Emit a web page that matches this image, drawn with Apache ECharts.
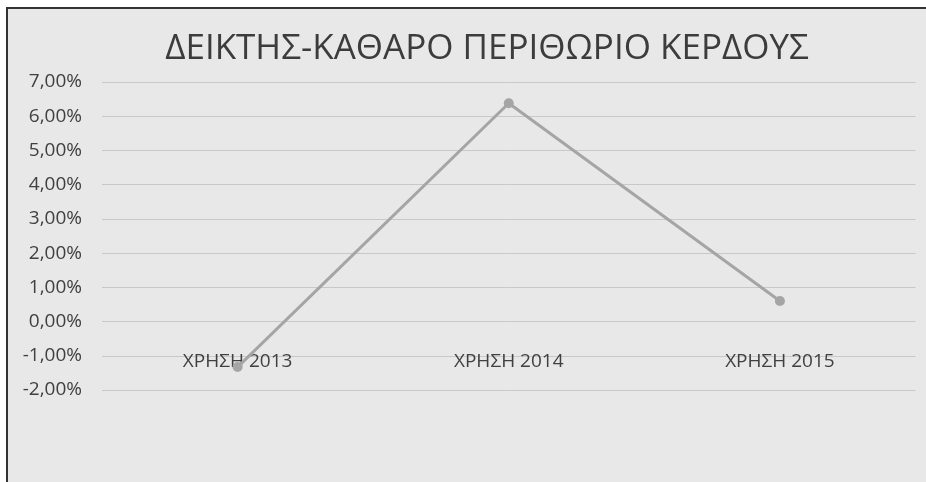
<!DOCTYPE html>
<html>
<head>
<meta charset="utf-8">
<script src="https://cdn.jsdelivr.net/npm/echarts@6/dist/echarts.min.js"></script>
<style>
html,body{margin:0;padding:0;background:#fff;}
#chart{width:926px;height:482px;}
</style>
</head>
<body>
<div id="chart"></div>
<script>
const titleText = 'ΔΕΙΚΤΗΣ-ΚΑΘΑΡΟ ΠΕΡΙΘΩΡΙΟ ΚΕΡΔΟΥΣ';
const categories = ['ΧΡΗΣΗ 2013', 'ΧΡΗΣΗ 2014', 'ΧΡΗΣΗ 2015'];
const values = [-1.33, 6.38, 0.6];
const yMin = -2, yMax = 7, yStep = 1;

const gridTop = 82, gridBottomY = 390;
const unitPx = (gridBottomY - gridTop) / (yMax - yMin);
const zeroOffset = -(0 - yMin) * unitPx; // move category axis up to the zero line

const chart = echarts.init(document.getElementById('chart'), null, {renderer: 'canvas'});
chart.setOption({
  backgroundColor: '#ffffff',
  animation: false,
  graphic: [
    {type: 'rect', shape: {x: 7, y: 8, width: 919, height: 474}, style: {fill: '#e8e8e8'}, z: -10},
    {type: 'line', shape: {x1: 6, y1: 8, x2: 926, y2: 8}, style: {stroke: '#333333', lineWidth: 2}, z: -5},
    {type: 'line', shape: {x1: 7, y1: 7, x2: 7, y2: 482}, style: {stroke: '#333333', lineWidth: 2}, z: -5}
  ],
  title: {
    text: titleText,
    left: 482, top: 27, textAlign: 'center',
    textStyle: {fontFamily: 'Open Sans', fontSize: 35, fontWeight: 'normal', color: '#3c3c3c'}
  },
  grid: {left: 102, right: 10.5, top: gridTop, bottom: 482 - gridBottomY, containLabel: false},
  xAxis: {
    type: 'category',
    data: categories,
    boundaryGap: true,
    offset: zeroOffset,
    axisLine: {show: false, onZero: false},
    axisTick: {show: false},
    axisLabel: {margin: 31, fontFamily: 'Open Sans', fontSize: 19, color: '#404040'},
    splitLine: {show: false}
  },
  yAxis: {
    type: 'value',
    min: yMin, max: yMax, interval: yStep,
    axisLine: {show: false},
    axisTick: {show: false},
    axisLabel: {
      margin: 20, fontFamily: 'Open Sans', fontSize: 19, color: '#404040',
      formatter: v => v.toFixed(2).replace('.', ',') + '%'
    },
    splitLine: {lineStyle: {color: '#c8c8c8', width: 1}}
  },
  series: [{
    type: 'line',
    data: values,
    symbol: 'circle',
    symbolSize: 10,
    lineStyle: {color: '#a5a5a5', width: 3},
    itemStyle: {color: '#a5a5a5'}
  }]
});
</script>
</body>
</html>
